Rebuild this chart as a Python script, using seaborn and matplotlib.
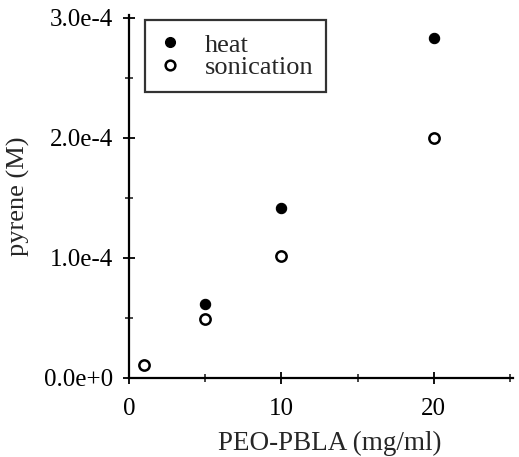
import matplotlib
matplotlib.use("Agg")
import matplotlib.pyplot as plt
from matplotlib.ticker import MultipleLocator
from matplotlib.lines import Line2D
import seaborn as sns
import pandas as pd

heat_x = [5, 10, 20]
heat_y = [6.2e-5, 1.42e-4, 2.83e-4]
son_x = [1, 5, 10, 20]
son_y = [1.1e-5, 4.9e-5, 1.02e-4, 2.0e-4]
x_ticks = [0, 10, 20]
y_ticks = [0.0, 1.0e-4, 2.0e-4, 3.0e-4]
y_tick_labels = ["0.0e+0", "1.0e-4", "2.0e-4", "3.0e-4"]

sns.set_style("ticks")
plt.rcParams['font.family'] = ['Liberation Serif', 'DejaVu Serif']

heat = pd.DataFrame({"x": heat_x, "y": heat_y})
son = pd.DataFrame({"x": son_x, "y": son_y})

fig = plt.figure(figsize=(5.19, 4.57), dpi=100)
ax = fig.add_axes([129/519, 1-378/457, (513-129)/519, (378-15)/457])

sns.scatterplot(data=heat, x="x", y="y", ax=ax, color="black", s=55,
                edgecolor="black", linewidth=0.8, zorder=3)
sns.scatterplot(data=son, x="x", y="y", ax=ax, facecolor="white", s=55,
                edgecolor="black", linewidth=1.8, zorder=3)

ax.set_xlim(0, 25.2)
ax.set_ylim(0, 3.025e-4)
ax.set_xticks(x_ticks)
ax.set_yticks(y_ticks)
ax.set_yticklabels(y_tick_labels)
ax.xaxis.set_minor_locator(MultipleLocator(5))
ax.yaxis.set_minor_locator(MultipleLocator(0.5e-4))
ax.tick_params(which="major", direction="inout", length=9, width=1.3,
               labelsize=18, colors="black")
ax.tick_params(axis="x", which="major", pad=10)
ax.tick_params(axis="y", which="major", pad=7)
ax.tick_params(which="minor", direction="inout", length=6, width=1.2)
for s in ["top", "right"]:
    ax.spines[s].set_visible(False)
for s in ["left", "bottom"]:
    ax.spines[s].set_linewidth(1.6)
    ax.spines[s].set_color("black")

ax.set_xlabel("PEO-PBLA (mg/ml)", fontsize=19.5, labelpad=11)
ax.xaxis.set_label_coords((330 - 129) / 384, -0.145, transform=ax.transAxes)
ax.set_ylabel("pyrene (M)", fontsize=19, labelpad=10)

handles = [
    Line2D([], [], marker="o", linestyle="none", markerfacecolor="black",
           markeredgecolor="black", markersize=7),
    Line2D([], [], marker="o", linestyle="none", markerfacecolor="white",
           markeredgecolor="black", markeredgewidth=1.8, markersize=7),
]
leg = ax.legend(handles, ["heat", "sonication"], loc="upper left",
                bbox_to_anchor=(16/384, 1.0 - 5/363), borderaxespad=0,
                fontsize=19, frameon=True, fancybox=False, shadow=False,
                edgecolor="black", handletextpad=0.85, borderpad=0.5,
                labelspacing=-0.05, handlelength=0.9)
leg.get_frame().set_linewidth(1.6)

fig.savefig("out.png", dpi=100)
